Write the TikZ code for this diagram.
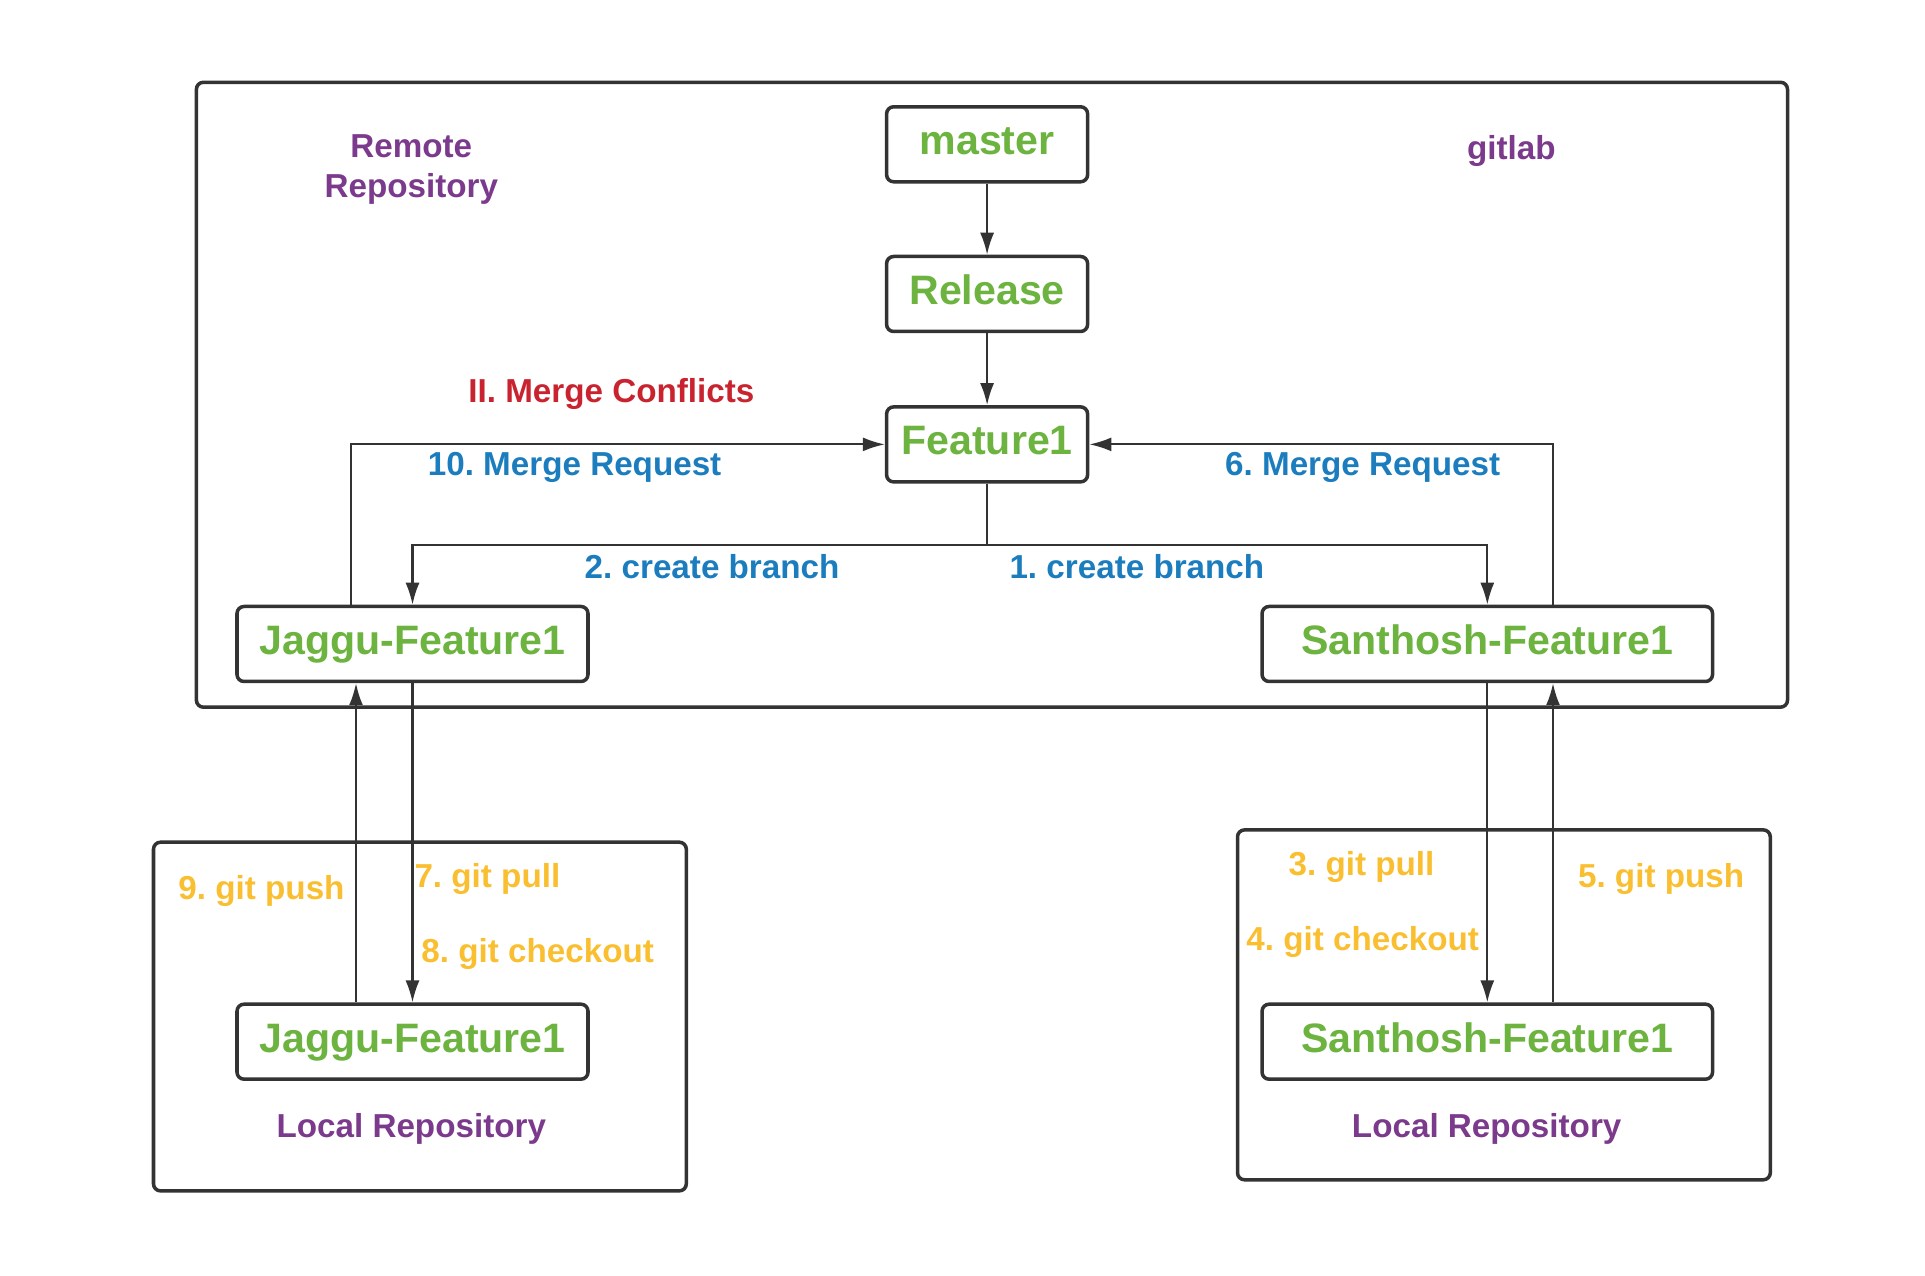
\documentclass[tikz,border=0pt]{standalone}
\usepackage{fontspec}
\setmainfont{Liberation Sans}
\usetikzlibrary{arrows.meta}
\definecolor{branchgreen}{HTML}{6CB33F}
\definecolor{repopurple}{HTML}{7B3A8C}
\definecolor{stepblue}{HTML}{1B7DBE}
\definecolor{gityellow}{HTML}{F9BF31}
\definecolor{conflictred}{HTML}{C9232F}
\definecolor{linegray}{HTML}{333333}
\frenchspacing
\begin{document}
\begin{tikzpicture}
		[%%%%%%%%%%%%%%%%%%%%%%%%%%%%%%
		box/.style={rectangle,draw=linegray,line width=1pt,rounded corners=2pt,minimum height=0.75cm,inner sep=0pt,text height=0.3cm,text depth=0.09cm,text=branchgreen,font=\fontsize{11.7}{14}\selectfont\bfseries},
		frame/.style={draw=linegray,line width=1pt,rounded corners=2pt},
		note/.style={font=\fontsize{9.45}{11.6}\selectfont\bfseries,inner sep=0pt,align=center},
		link/.style={draw=linegray,line width=0.6pt,-{Latex[length=2.2mm,width=1.4mm]}},
		]%%%%%%%%%%%%%%%%%%%%%%%%%%%%%%
		
		\useasboundingbox (0,0) rectangle (19.25,12.76);
		\draw[frame] (1.964,5.688) rectangle (17.875,11.937);
		\draw[frame] (1.535,0.851) rectangle (6.863,4.338);
		\draw[frame] (12.375,0.962) rectangle (17.703,4.461);
		
		\node[box,minimum width=2.01cm] (master) at (9.871,11.317) {master};
		\node[box,minimum width=2.01cm] (release) at (9.871,9.82) {Release};
		\node[box,minimum width=2.01cm] (feature1) at (9.871,8.316) {Feature1};
		\node[box,minimum width=3.51cm] (jremote) at (4.125,6.32) {Jaggu-Feature1};
		\node[box,minimum width=4.505cm] (sremote) at (14.873,6.32) {Santhosh-Feature1};
		\node[box,minimum width=3.51cm] (jlocal) at (4.125,2.343) {Jaggu-Feature1};
		\node[box,minimum width=4.505cm] (slocal) at (14.873,2.343) {Santhosh-Feature1};
		
		\node[note,text=repopurple] (remote) at (4.113,11.065) {Remote\\Repository};
		\node[note,text=repopurple] (gitlab) at (15.113,11.245) {gitlab};
		\node[note,text=repopurple] (jrepo) at (4.113,1.475) {Local Repository};
		\node[note,text=repopurple] (srepo) at (14.867,1.475) {Local Repository};
		\node[note,text=conflictred] (conflicts) at (6.114,8.82) {II. Merge Conflicts};
		\node[note,text=stepblue] (mr10) at (5.746,8.082) {10. Merge Request};
		\node[note,text=stepblue] (mr6) at (13.627,8.082) {6. Merge Request};
		\node[note,text=stepblue] (cb2) at (7.121,7.09) {2. create branch};
		\node[note,text=stepblue] (cb1) at (11.369,7.09) {1. create branch};
		\node[note,text=gityellow] (push9) at (2.615,3.846) {9. git push};
		\node[note,text=gityellow] (pull7) at (4.874,3.969) {7. git pull};
		\node[note,text=gityellow] (checkout8) at (5.377,3.22) {8. git checkout};
		\node[note,text=gityellow] (pull3) at (13.615,4.092) {3. git pull};
		\node[note,text=gityellow] (checkout4) at (13.627,3.343) {4. git checkout};
		\node[note,text=gityellow] (push5) at (16.611,3.969) {5. git push};
		
		\coordinate (fork) at ([yshift=-0.614cm]feature1.south);
		\draw[link] (master) -- (release);
		\draw[link] (release) -- (feature1);
		\draw[link] (feature1.south) -- (fork) -| (jremote.north);
		\draw[link] (fork) -| (sremote.north);
		\draw[link] ([xshift=-0.614cm]jremote.north) |- (feature1.west);
		\draw[link] ([xshift=0.657cm]sremote.north) |- (feature1.east);
		\draw[link] (jremote.south) -- (jlocal.north);
		\draw[link] ([xshift=-0.565cm]jlocal.north) -- ([xshift=-0.565cm]jremote.south);
		\draw[link] (sremote.south) -- (slocal.north);
		\draw[link] ([xshift=0.657cm]slocal.north) -- ([xshift=0.657cm]sremote.south);
		\end{tikzpicture}
\end{document}
